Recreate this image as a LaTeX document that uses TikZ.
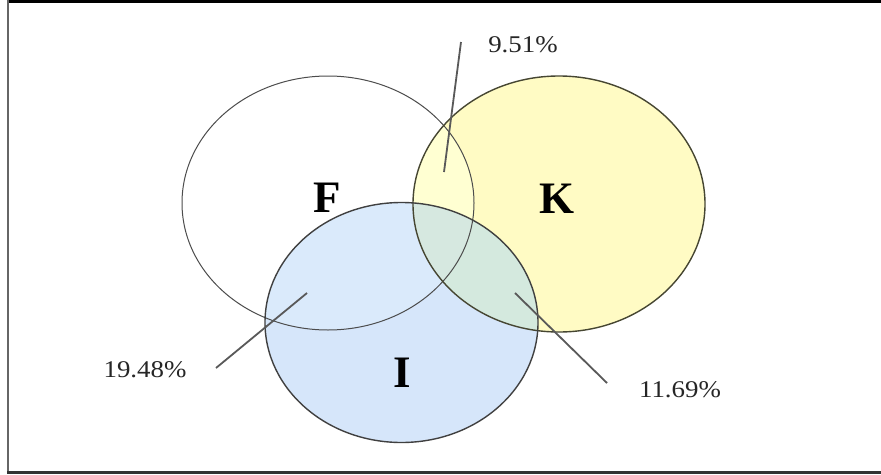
\documentclass[tikz,border=0pt]{standalone}
\usepackage{fontspec}
\setmainfont{Liberation Serif}
\begin{document}
\begin{tikzpicture}[x=1pt,y=-1pt,
  setline/.style={line width=1.4pt, draw=black!75},
  leader/.style={line width=1.8pt, draw=black!65},
  setname/.style={font=\fontsize{45}{45}\selectfont\bfseries, inner sep=0pt},
  pct/.style={font=\fontsize{24}{24}\selectfont, text=black!85, inner sep=0pt, xscale=1.12}]
\useasboundingbox (0,0) rectangle (881,474);
\fill[white] (0,0) rectangle (881,474);
\def\Fell{(328,203) ellipse [x radius=146, y radius=127]}
\def\Kell{(559,204) ellipse [x radius=146, y radius=128]}
\def\Iell{(401.5,322.5) ellipse [x radius=136.5, y radius=120]}
% fills
\fill[fill={rgb,255:red,255;green,251;blue,196}] \Kell;
\fill[fill={rgb,255:red,214;green,230;blue,250}] \Iell;
\begin{scope}
  \clip \Iell;
  \fill[fill={rgb,255:red,212;green,233;blue,222}] \Kell;
\end{scope}
\begin{scope}
  \clip \Fell;
  \fill[fill={rgb,255:red,255;green,255;blue,210}] \Kell;
\end{scope}
\begin{scope}
  \clip \Fell;
  \fill[fill={rgb,255:red,218;green,234;blue,251}] \Iell;
\end{scope}
\begin{scope}
  \clip \Fell;
  \clip \Iell;
  \fill[fill={rgb,255:red,214;green,232;blue,224}] \Kell;
\end{scope}
% outlines
\draw[line width=1pt, draw=black!70] \Fell;
\draw[setline, draw={rgb,255:red,70;green,70;blue,50}] \Kell;
\draw[setline] \Iell;
% set names
\node[setname] (F) at (327.5,198) {F};
\node[setname] (K) at (557,199) {K};
\node[setname] (I) at (402,373) {I};
% labels
\node[pct] (p951) at (523,45) {9.51\%};
\node[pct] (p1948) at (145,370) {19.48\%};
\node[pct] (p1169) at (680,390) {11.69\%};
% leader lines
\coordinate (a1) at (461,42);
\coordinate (b1) at (444,172);
\coordinate (a2) at (216,368);
\coordinate (b2) at (307,293);
\coordinate (a3) at (607,383);
\coordinate (b3) at (515,293);
\draw[leader] (a1) -- (b1);
\draw[leader] (a2) -- (b2);
\draw[leader] (a3) -- (b3);
% frame
\coordinate (t1) at (7,1.3);
\coordinate (t2) at (881,1.3);
\coordinate (l1) at (8,0);
\coordinate (l2) at (8,474);
\coordinate (d1) at (7,472.5);
\coordinate (d2) at (881,472.5);
\draw[line width=2.6pt, black] (t1) -- (t2);
\draw[line width=2pt, black!60] (l1) -- (l2);
\draw[line width=3pt, black!80] (d1) -- (d2);
\end{tikzpicture}
\end{document}
